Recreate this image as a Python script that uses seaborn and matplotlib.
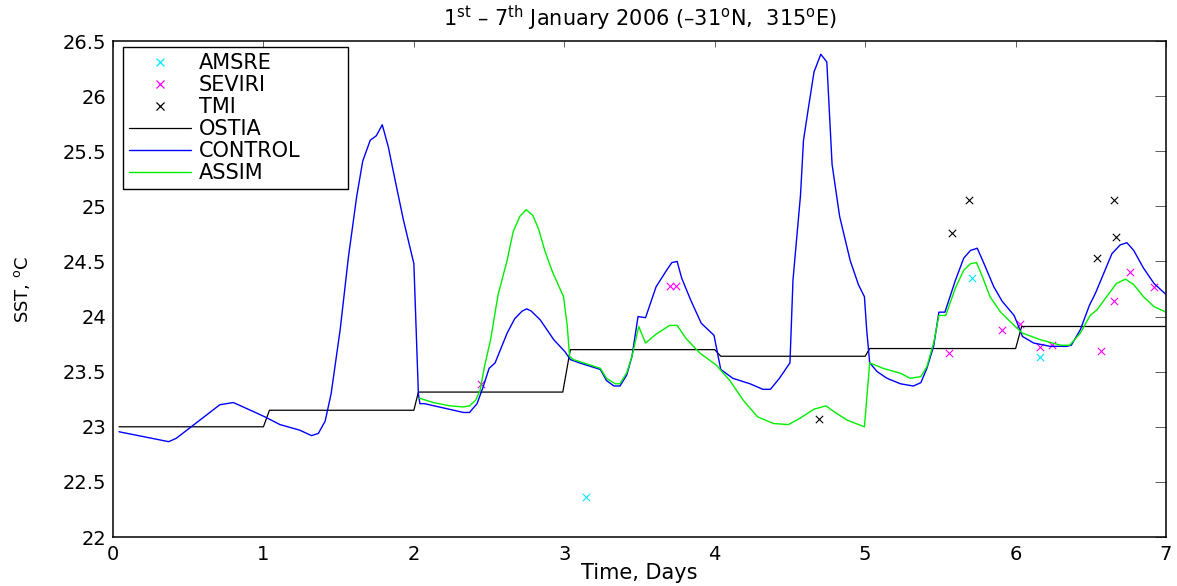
import matplotlib
matplotlib.use("Agg")
import matplotlib.pyplot as plt
import seaborn as sns
import pandas as pd
from matplotlib.lines import Line2D

# values (time in days, SST in degC)
ostia_t = [0.04, 1.0, 1.04, 2.0, 2.03, 2.99, 3.04, 4.0, 4.04, 5.0, 5.03, 6.0, 6.04, 7.0]
ostia_v = [23.0, 23.0, 23.15, 23.15, 23.315, 23.315, 23.70, 23.70, 23.64, 23.64, 23.71, 23.71, 23.91, 23.91]

control_t = [0.04, 0.37, 0.42, 0.52, 0.71, 0.80, 0.93, 1.01, 1.11, 1.24, 1.32, 1.365, 1.41, 1.45,
             1.51, 1.565, 1.62, 1.66, 1.71, 1.75, 1.79, 1.83, 1.875, 1.93, 2.0, 2.03, 2.04, 2.07,
             2.20, 2.33, 2.37, 2.42, 2.46, 2.50, 2.54, 2.62, 2.67, 2.72, 2.75, 2.78, 2.84, 2.93,
             3.005, 3.04, 3.10, 3.24, 3.28, 3.33, 3.37, 3.415, 3.45, 3.49, 3.54, 3.61, 3.68, 3.715,
             3.75, 3.78, 3.84, 3.91, 3.995, 4.04, 4.12, 4.235, 4.32, 4.37, 4.43, 4.50, 4.52, 4.57,
             4.59, 4.62, 4.66, 4.705, 4.745, 4.78, 4.83, 4.90, 4.955, 4.995, 5.01, 5.03, 5.08, 5.145,
             5.235, 5.32, 5.37, 5.41, 5.455, 5.49, 5.53, 5.60, 5.655, 5.70, 5.745, 5.79, 5.855, 5.91,
             5.99, 6.02, 6.045, 6.12, 6.23, 6.34, 6.37, 6.43, 6.49, 6.53, 6.585, 6.64, 6.695, 6.74,
             6.785, 6.85, 6.92, 7.0]
control_v = [22.955, 22.865, 22.895, 23.00, 23.20, 23.22, 23.14, 23.09, 23.02, 22.97, 22.92, 22.94, 23.05, 23.30,
             23.88, 24.54, 25.09, 25.41, 25.60, 25.64, 25.74, 25.54, 25.24, 24.88, 24.48, 23.30, 23.21, 23.21,
             23.17, 23.13, 23.13, 23.21, 23.36, 23.53, 23.58, 23.85, 23.98, 24.05, 24.07, 24.05, 23.97, 23.79,
             23.68, 23.61, 23.58, 23.52, 23.42, 23.37, 23.37, 23.47, 23.64, 24.00, 23.99, 24.27, 24.42, 24.49,
             24.50, 24.35, 24.15, 23.94, 23.83, 23.52, 23.44, 23.39, 23.34, 23.34, 23.44, 23.58, 24.33, 25.10,
             25.60, 25.87, 26.22, 26.38, 26.31, 25.38, 24.91, 24.51, 24.29, 24.18, 23.88, 23.58, 23.50, 23.44,
             23.39, 23.37, 23.40, 23.53, 23.73, 24.04, 24.04, 24.33, 24.53, 24.60, 24.62, 24.48, 24.27, 24.14,
             24.01, 23.91, 23.82, 23.76, 23.73, 23.73, 23.74, 23.88, 24.10, 24.21, 24.39, 24.57, 24.65, 24.67,
             24.60, 24.44, 24.30, 24.20]

assim_t = [2.035, 2.13, 2.24, 2.33, 2.37, 2.41, 2.44, 2.47, 2.51, 2.56, 2.62, 2.66, 2.705, 2.746,
           2.79, 2.83, 2.87, 2.92, 2.995, 3.02, 3.035, 3.06, 3.24, 3.28, 3.34, 3.37, 3.415, 3.45,
           3.495, 3.54, 3.61, 3.70, 3.75, 3.81, 3.90, 4.01, 4.10, 4.19, 4.285, 4.39, 4.49, 4.57,
           4.66, 4.74, 4.79, 4.88, 4.995, 5.03, 5.12, 5.235, 5.30, 5.37, 5.41, 5.455, 5.49, 5.535,
           5.60, 5.655, 5.70, 5.74, 5.78, 5.83, 5.90, 5.99, 6.045, 6.165, 6.30, 6.36, 6.43, 6.495,
           6.54, 6.605, 6.67, 6.73, 6.785, 6.85, 6.92, 7.0]
assim_v = [23.26, 23.22, 23.19, 23.18, 23.19, 23.24, 23.33, 23.55, 23.79, 24.20, 24.51, 24.77, 24.91, 24.97,
           24.92, 24.79, 24.60, 24.41, 24.18, 23.91, 23.64, 23.61, 23.53, 23.44, 23.39, 23.39, 23.49, 23.64,
           23.91, 23.76, 23.84, 23.92, 23.92, 23.80, 23.67, 23.56, 23.42, 23.24, 23.09, 23.03, 23.02, 23.08,
           23.16, 23.19, 23.14, 23.06, 23.00, 23.58, 23.53, 23.485, 23.44, 23.455, 23.545, 23.76, 24.01, 24.01,
           24.26, 24.42, 24.48, 24.49, 24.36, 24.18, 24.04, 23.92, 23.85, 23.79, 23.74, 23.74, 23.85, 24.01,
           24.06, 24.18, 24.30, 24.34, 24.29, 24.18, 24.09, 24.04]

amsre_t = [3.145, 5.71, 6.165]
amsre_v = [22.36, 24.35, 23.63]

seviri_t = [2.445, 3.70, 3.74, 5.555, 5.91, 6.03, 6.165, 6.24, 6.57, 6.655, 6.76, 6.92]
seviri_v = [23.39, 24.28, 24.28, 23.67, 23.88, 23.93, 23.72, 23.74, 23.69, 24.14, 24.40, 24.27]

tmi_t = [4.69, 5.58, 5.69, 6.54, 6.655, 6.67]
tmi_v = [23.07, 24.76, 25.06, 24.53, 25.06, 24.72]

xticks = [0, 1, 2, 3, 4, 5, 6, 7]
yticks = [22, 22.5, 23, 23.5, 24, 24.5, 25, 25.5, 26, 26.5]
ytick_labels = ["22", "22.5", "23", "23.5", "24", "24.5", "25", "25.5", "26", "26.5"]

sns.set_style("white")
plt.rcParams["font.family"] = ["DejaVu Sans"]
plt.rcParams["mathtext.fontset"] = "dejavusans"
plt.rcParams["text.color"] = "black"
plt.rcParams["axes.labelcolor"] = "black"
plt.rcParams["xtick.color"] = "black"
plt.rcParams["ytick.color"] = "black"

fig = plt.figure(figsize=(11.77, 5.86), dpi=100)
ax = fig.add_axes([0.096, 0.0836, 0.8947, 0.8464])

ostia = pd.DataFrame({"t": ostia_t, "v": ostia_v})
control = pd.DataFrame({"t": control_t, "v": control_v})
assim = pd.DataFrame({"t": assim_t, "v": assim_v})

sns.lineplot(data=ostia, x="t", y="v", color="black", lw=0.9, sort=False, estimator=None, ax=ax)
sns.lineplot(data=control, x="t", y="v", color="#0000ff", lw=1.0, sort=False, estimator=None, ax=ax)
sns.lineplot(data=assim, x="t", y="v", color="#00ee00", lw=1.0, sort=False, estimator=None, ax=ax)

sns.scatterplot(x=amsre_t, y=amsre_v, marker="x", color="#00e8ff", s=28, linewidth=0.8, ax=ax)
sns.scatterplot(x=seviri_t, y=seviri_v, marker="x", color="#ff00ff", s=28, linewidth=0.8, ax=ax)
sns.scatterplot(x=tmi_t, y=tmi_v, marker="x", color="black", s=28, linewidth=0.8, ax=ax)

ax.set_xlim(0, 7)
ax.set_ylim(22, 26.5)
ax.set_xticks(xticks)
ax.set_xticklabels([str(t) for t in xticks])
ax.set_yticks(yticks)
ax.set_yticklabels(ytick_labels)
ax.tick_params(axis="both", direction="in", top=True, right=True, labelsize=14, width=0.6,
               color="#444444", labelcolor="black")
ax.tick_params(axis="x", length=4.5, pad=6)
ax.tick_params(axis="y", length=8, pad=5)
for sp in ax.spines.values():
    sp.set_color("black")
    sp.set_linewidth(1.1)

ax.set_xlabel("Time, Days", fontsize=15)
ax.set_ylabel(r"SST, $^{\rm o}$C", fontsize=13)
ax.xaxis.set_label_coords(0.5, -0.052)
ax.yaxis.set_label_coords(-0.077, 0.5)
ax.set_title(r"1$^{\rm st}$ – 7$^{\rm th}$ January 2006 (–31$^{\rm o}$N,  315$^{\rm o}$E)", fontsize=15, pad=11)

handles = [
    Line2D([], [], ls="none", marker="x", color="#00e8ff", markersize=5.5, mew=0.9),
    Line2D([], [], ls="none", marker="x", color="#ff00ff", markersize=5.5, mew=0.9),
    Line2D([], [], ls="none", marker="x", color="black", markersize=5.5, mew=0.9),
    Line2D([], [], color="black", lw=0.9),
    Line2D([], [], color="#0000ff", lw=1.0),
    Line2D([], [], color="#00ee00", lw=1.0),
]
labels = ["AMSRE", "SEVIRI", "TMI", "OSTIA", "CONTROL", "ASSIM"]
leg = ax.legend(handles, labels, loc="upper left", bbox_to_anchor=(0.0095, 0.0, 0.2137, 0.988),
                mode="expand", borderaxespad=0,
                fontsize=15, frameon=True, fancybox=False, edgecolor="black", framealpha=1,
                handlelength=3.0, handletextpad=0.35, labelspacing=0.1, borderpad=0.28, numpoints=1)
leg.get_frame().set_linewidth(1.0)

fig.savefig("out.png", dpi=100)
